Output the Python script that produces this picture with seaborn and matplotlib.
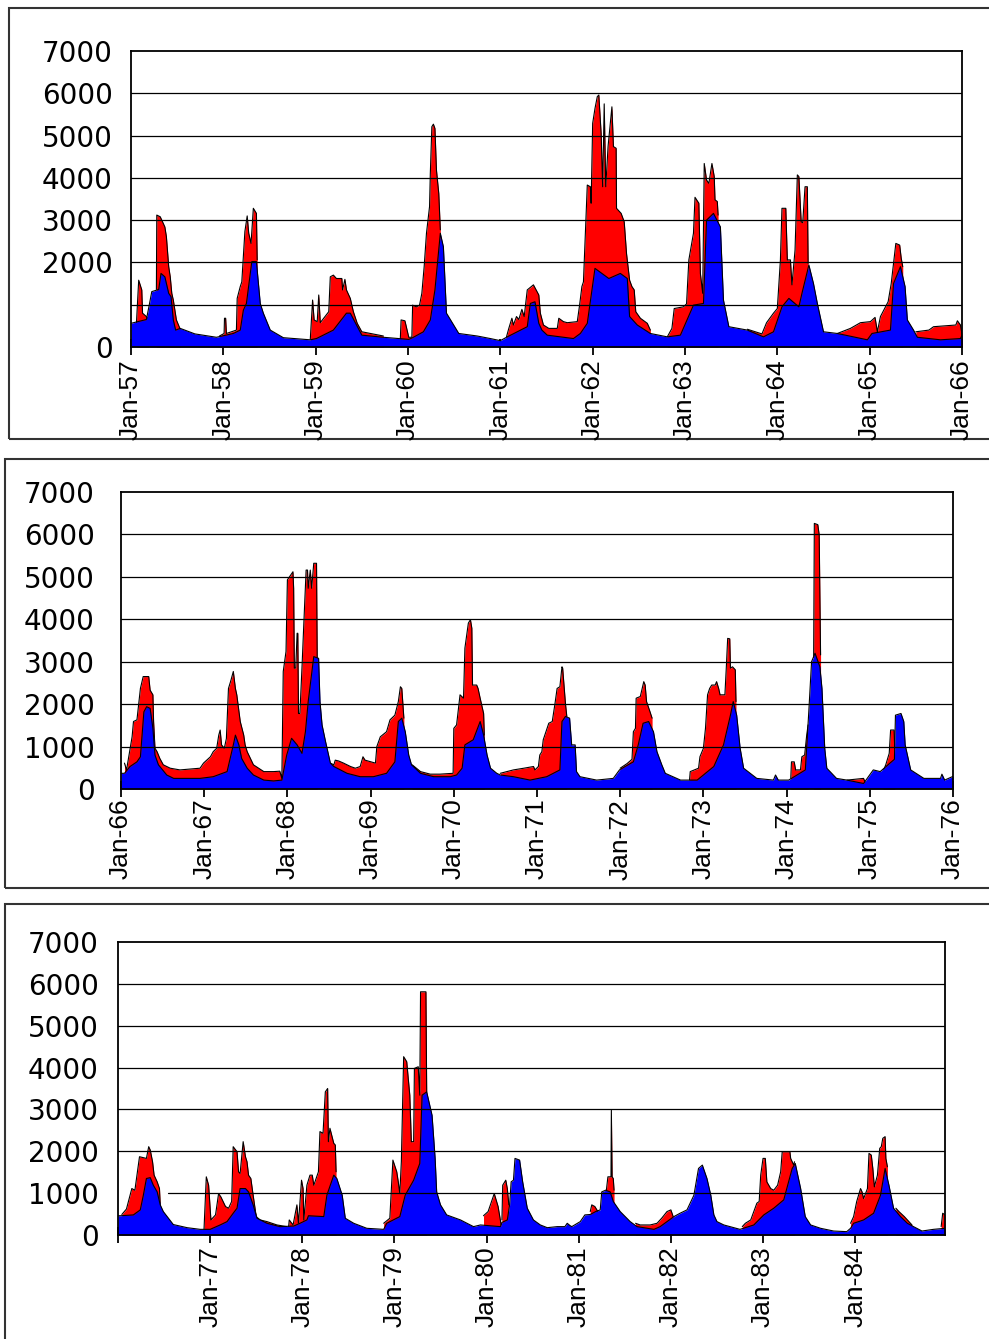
import matplotlib
matplotlib.use("Agg")
import matplotlib.pyplot as plt
from matplotlib.patches import Rectangle
import pandas as pd
import seaborn as sns

# ---------------------------------------------------------------------------
# Flow records, month offsets from January of each panel's first year.
# Lower (blue) series is continuous; upper (red) series is stored as the
# stretches where it rises above the lower one.
# ---------------------------------------------------------------------------

# 1957 - 1966
P1_BLUE = [(0, 560), (2.0, 650), (2.4, 1020), (2.7, 1310), (3.6, 1360), (3.9, 1740), (4.4, 1660),
           (4.9, 1270), (5.2, 1190), (5.5, 640), (5.8, 400), (6.4, 440), (8.3, 310), (11.1, 230),
           (13.3, 320), (14.2, 400), (14.6, 870), (15.0, 1030), (15.7, 2020), (16.3, 2020),
           (16.8, 1030), (17.2, 800), (18.1, 400), (19.8, 220), (23.3, 170), (24.1, 200), (26.3, 400),
           (28.0, 800), (28.5, 800), (30.0, 280), (32.8, 230), (36.1, 180), (36.7, 230), (38.0, 360),
           (38.9, 640), (39.5, 1350), (40.2, 2690), (40.6, 2370), (41.0, 800), (42.6, 320),
           (45.0, 260), (46.7, 200), (48.0, 150), (48.9, 240), (51.5, 480), (51.9, 1030),
           (52.5, 1070), (53.0, 560), (53.4, 400), (54.1, 280), (57.5, 200), (58.4, 320), (59.3, 560),
           (60.3, 1860), (62.1, 1620), (63.6, 1740), (64.5, 1620), (64.8, 720), (65.8, 520),
           (67.5, 320), (69.7, 240), (71.4, 280), (73.1, 990), (74.4, 1030), (74.8, 3000),
           (75.7, 3160), (76.6, 2840), (77.0, 1110), (77.7, 480), (80.1, 400), (82.2, 240),
           (83.5, 360), (84.6, 950), (85.5, 1150), (86.8, 950), (87.2, 1270), (88.1, 1940),
           (88.7, 1500), (89.2, 1030), (90.0, 360), (91.8, 320), (95.7, 170), (96.3, 320), (98.7, 400),
           (99.1, 1500), (100.0, 1900), (100.6, 1430), (100.9, 640), (101.7, 400), (102.2, 230),
           (105.2, 170), (107.8, 200), (108.0, 280)]

P1_RED = [
    [(0.7, 540), (1.0, 1580), (1.4, 1350), (1.5, 800), (2.0, 720), (2.3, 650)],
    [(3.3, 1360), (3.35, 3120), (3.8, 3080), (4.4, 2840), (4.6, 2610), (4.9, 1900), (5.1, 1660),
     (5.3, 1270), (5.5, 1110), (5.9, 640), (6.4, 420)],
    [(11.5, 260), (12.1, 320), (12.15, 680), (12.3, 680), (12.4, 320), (13.7, 400), (13.8, 1150),
     (14.2, 1430), (14.4, 1540), (14.8, 2730), (15.1, 3100), (15.3, 2690), (15.6, 2450),
     (15.9, 3280), (16.3, 3160), (16.4, 2060)],
    [(23.3, 180), (23.6, 1110), (23.8, 640), (24.2, 600), (24.4, 1230), (24.6, 575), (25.7, 835),
     (25.9, 1660), (26.3, 1700), (26.7, 1620), (27.4, 1620), (27.5, 1350), (27.8, 1600),
     (28.0, 1350), (28.5, 1150), (28.9, 835), (29.4, 560), (30.0, 360), (32.8, 260)],
    [(35.0, 180), (35.1, 640), (35.6, 620), (36.1, 230), (36.5, 230), (36.6, 990), (37.1, 950),
     (37.5, 990), (37.8, 1270), (38.1, 1900), (38.4, 2690), (38.8, 3320), (38.9, 4100),
     (39.1, 5210), (39.3, 5270), (39.5, 5170), (39.7, 4180), (40.0, 3630), (40.2, 2770)],
    [(48.8, 240), (49.1, 440), (49.5, 680), (49.7, 520), (50.1, 720), (50.4, 650), (50.8, 890),
     (51.1, 720), (51.5, 1350), (52.3, 1470), (53.0, 1230), (53.2, 800), (53.6, 520), (54.3, 440),
     (55.4, 440), (55.6, 680), (56.2, 600), (56.7, 575), (58.0, 600), (58.3, 990), (58.6, 1430),
     (58.8, 1540), (59.3, 3830), (59.7, 3790), (59.8, 3400), (60.0, 5290), (60.3, 5640),
     (60.6, 5920), (60.8, 5960), (61.1, 5050), (61.3, 3790), (61.5, 5750), (61.7, 3790),
     (62.0, 4740), (62.5, 5680), (62.7, 4740), (63.05, 4700), (63.1, 3280), (63.7, 3160),
     (64.1, 2960), (64.4, 2210), (64.8, 1580), (65.1, 1430), (65.4, 1350), (65.6, 835),
     (66.2, 680), (67.1, 560), (67.5, 400)],
    [(69.7, 240), (70.3, 440), (70.6, 910), (71.8, 950), (72.2, 1020), (72.5, 2060), (73.1, 2690),
     (73.3, 3540), (73.8, 3400), (74.0, 1740), (74.3, 1270), (74.5, 4340), (74.8, 3950),
     (75.1, 3870), (75.5, 4340), (75.8, 4030), (75.9, 3480), (76.2, 3440), (76.3, 3120)],
    [(80.1, 420), (82.0, 310), (82.6, 575), (83.5, 800), (84.0, 910), (84.4, 2060), (84.6, 3280),
     (85.1, 3280), (85.3, 2060), (85.7, 2060), (85.9, 1470), (86.3, 2290), (86.6, 4070),
     (86.8, 4030), (87.1, 2960), (87.3, 2940), (87.6, 3790), (87.9, 3790), (88.0, 1980)],
    [(91.8, 320), (93.5, 440), (94.8, 575), (96.1, 600), (96.7, 700), (97.0, 360), (97.4, 720),
     (98.4, 1070), (98.8, 1500), (99.4, 2450), (99.9, 2410), (100.1, 2100), (100.3, 1900)],
    [(102.0, 360), (103.7, 400), (104.3, 480), (107.2, 520), (107.4, 620), (107.8, 520),
     (108.0, 300)],
]

# 1966 - 1976
P2_BLUE = [(0, 370), (0.5, 370), (1.3, 530), (2.3, 640), (2.8, 760), (3.3, 1820), (3.7, 1940),
           (4.2, 1900), (4.6, 1430), (4.9, 800), (5.4, 570), (6.6, 330), (7.6, 250), (11.4, 250),
           (13.3, 290), (15.3, 410), (16.2, 1040), (16.5, 1270), (17.0, 1040), (17.4, 720),
           (18.2, 490), (19.1, 330), (20.6, 210), (22.0, 190), (23.2, 210), (23.9, 800),
           (24.6, 1195), (25.4, 1040), (26.1, 840), (26.6, 1350), (27.0, 2060), (27.8, 3120),
           (28.5, 3080), (28.7, 2060), (29.0, 1510), (29.5, 1120), (30.2, 610), (30.7, 530),
           (32.6, 370), (34.5, 290), (36.4, 290), (38.3, 370), (39.5, 640), (40.0, 1590),
           (40.5, 1670), (41.0, 1350), (41.5, 800), (41.9, 570), (43.2, 370), (45.1, 290),
           (47.5, 290), (48.4, 330), (49.2, 490), (49.6, 1040), (50.8, 1160), (51.8, 1590),
           (52.3, 1270), (52.8, 800), (53.3, 490), (54.2, 370), (54.7, 330), (56.6, 290), (59.0, 210),
           (61.4, 290), (63.3, 450), (63.6, 1590), (64.1, 1710), (64.7, 1670), (65.0, 1040),
           (65.5, 1040), (65.7, 410), (66.2, 290), (68.6, 210), (71.0, 250), (71.9, 450), (72.7, 530),
           (73.9, 640), (74.6, 1040), (75.3, 1550), (76.1, 1590), (76.8, 1350), (77.3, 880),
           (78.0, 570), (78.5, 370), (80.7, 210), (83.1, 210), (84.0, 330), (85.5, 530), (86.9, 1040),
           (87.9, 1740), (88.3, 2060), (88.8, 1740), (89.3, 960), (89.8, 490), (91.7, 250),
           (94.1, 210), (94.4, 330), (94.8, 210), (96.3, 210), (98.7, 450), (99.2, 1820),
           (99.6, 3000), (100.1, 3200), (100.8, 2880), (101.1, 2370), (101.5, 960), (101.8, 490),
           (103.2, 250), (104.7, 210), (107.1, 130), (108.5, 450), (109.5, 410), (110.9, 610),
           (111.55, 700), (111.7, 1740), (112.5, 1780), (112.9, 1590), (113.1, 1040), (113.9, 450),
           (115.8, 250), (118.2, 250), (118.4, 350), (118.8, 210), (119.9, 290), (120.0, 300)]

P2_RED = [
    [(0.5, 610), (0.8, 450), (1.6, 1230), (1.8, 1590), (2.3, 1630), (2.8, 2370), (3.2, 2650),
     (4.0, 2650), (4.2, 2330), (4.6, 2220), (4.7, 1590), (4.9, 960), (5.2, 880), (5.6, 720),
     (6.1, 570), (7.1, 490), (8.5, 450), (11.4, 490), (11.9, 610), (12.9, 760), (13.3, 880),
     (13.8, 960), (14.1, 1270), (14.3, 1390), (14.5, 1040), (14.9, 960), (15.2, 1190),
     (15.5, 2370), (15.8, 2530), (16.2, 2770), (16.5, 2370), (16.7, 2220), (17.2, 1590),
     (17.7, 1270), (17.9, 1040), (18.2, 880), (19.1, 570), (20.6, 410), (22.0, 410), (22.9, 420),
     (23.2, 250), (23.4, 2770), (23.8, 3240), (24.0, 4930), (24.8, 5120), (24.9, 4730),
     (25.0, 2850), (25.2, 2850), (25.4, 3670), (25.5, 3670), (25.6, 1780), (25.8, 1780),
     (26.1, 2850), (26.4, 4020), (26.7, 5160), (26.9, 5160), (27.0, 4730), (27.3, 5160),
     (27.5, 4730), (27.8, 5320), (28.2, 5320), (28.3, 3080)],
    [(30.2, 610), (30.7, 570), (30.9, 680), (31.4, 660), (32.1, 610), (33.1, 530), (33.8, 490),
     (34.5, 530), (34.9, 760), (35.2, 680), (36.7, 610), (36.9, 1000), (37.4, 1230), (38.3, 1350),
     (38.8, 1630), (39.5, 1740), (40.0, 2060), (40.3, 2410), (40.5, 2370), (40.8, 1670)],
    [(42.0, 570), (43.2, 410), (44.6, 350), (46.0, 350), (47.9, 370), (48.0, 1430), (48.4, 1510),
     (48.9, 2220), (49.4, 2140), (49.6, 3320), (50.1, 3910), (50.4, 3990), (50.6, 3790),
     (50.7, 2450), (51.3, 2450), (51.5, 2370), (51.8, 2140), (52.3, 1780), (52.4, 1270)],
    [(54.7, 370), (56.6, 450), (58.1, 490), (59.5, 530), (59.7, 450), (60.2, 530), (60.4, 800),
     (60.7, 880), (60.9, 1160), (61.7, 1550), (62.2, 1590), (62.6, 2020), (62.9, 2370),
     (63.3, 2410), (63.6, 2880), (63.7, 2850), (64.1, 2020), (64.3, 1710)],
    [(72.0, 490), (73.0, 600), (73.7, 700), (73.9, 1350), (74.2, 1430), (74.3, 2140), (74.9, 2180),
     (75.4, 2530), (75.6, 2450), (75.8, 2060), (76.3, 1820), (76.6, 1670)],
    [(82.0, 210), (82.1, 410), (83.3, 490), (83.5, 760), (84.0, 960), (84.3, 1430), (84.6, 2220),
     (84.9, 2370), (85.2, 2450), (85.7, 2450), (85.9, 2530), (86.2, 2370), (86.4, 2220),
     (87.1, 2220), (87.3, 2850), (87.5, 3550), (87.8, 3540), (87.9, 2850), (88.2, 2880),
     (88.6, 2810), (88.7, 2060)],
    [(96.6, 250), (96.7, 640), (97.1, 640), (97.3, 450), (98.0, 450), (98.2, 760), (98.6, 800),
     (98.9, 1270), (99.1, 1510)],
    [(99.9, 3100), (100.0, 6260), (100.5, 6230), (100.7, 5990), (100.9, 3160)],
    [(104.7, 210), (107.1, 250), (107.4, 130)],
    [(109.9, 410), (110.3, 570), (110.8, 840), (111.0, 1390), (111.5, 1390), (111.6, 960)],
]

# 1976 - 1984
P3_BLUE = [(0, 460), (0.3, 460), (2.0, 480), (2.9, 600), (3.3, 950), (3.7, 1350), (4.2, 1370),
           (4.6, 1190), (5.1, 1030), (5.5, 720), (5.9, 560), (7.2, 250), (9.0, 175), (10.7, 135),
           (12.0, 135), (13.3, 240), (14.2, 320), (15.0, 520), (15.5, 640), (15.9, 1110),
           (16.6, 1110), (17.0, 1030), (17.6, 720), (18.1, 400), (19.4, 280), (21.1, 200),
           (22.9, 215), (23.7, 280), (24.6, 360), (24.8, 460), (26.8, 440), (27.2, 950),
           (28.1, 1430), (28.5, 1350), (29.2, 950), (29.6, 400), (30.7, 280), (32.4, 160),
           (34.6, 135), (35.0, 280), (36.7, 440), (37.4, 950), (38.5, 1310), (39.3, 1710),
           (39.6, 3340), (40.2, 3420), (40.9, 2860), (41.3, 1830), (41.5, 1030), (42.0, 720),
           (42.8, 480), (44.6, 360), (46.3, 200), (47.2, 240), (48.5, 220), (49.8, 200), (50.0, 300),
           (50.7, 360), (51.0, 720), (51.2, 1270), (51.5, 1310), (51.7, 1830), (52.3, 1790),
           (52.7, 1270), (53.3, 640), (54.1, 360), (55.0, 240), (55.9, 175), (57.2, 200), (58.2, 200),
           (58.5, 280), (58.9, 220), (59.1, 200), (60.2, 320), (60.8, 480), (61.5, 490), (62.2, 560),
           (62.8, 600), (63.0, 1030), (63.5, 1070), (64.1, 1030), (64.5, 800), (65.4, 560),
           (66.7, 320), (67.6, 200), (69.8, 135), (70.6, 200), (71.5, 320), (72.4, 440), (73.2, 520),
           (74.1, 600), (75.0, 950), (75.6, 1590), (76.1, 1670), (76.7, 1350), (77.2, 950),
           (77.6, 480), (78.0, 320), (78.9, 240), (81.0, 135), (82.8, 240), (84.1, 480), (85.4, 640),
           (86.7, 840), (87.8, 1590), (88.2, 1710), (88.9, 1110), (89.5, 440), (90.2, 240),
           (91.5, 160), (93.2, 95), (94.9, 80), (95.4, 160), (95.8, 280), (97.1, 360), (98.4, 520),
           (99.3, 950), (99.9, 1590), (100.4, 1190), (101.0, 640), (101.9, 440), (102.8, 280),
           (103.6, 200), (104.7, 95), (106.2, 135), (107.7, 160)]

P3_RED = [
    [(0.5, 490), (1.1, 620), (1.8, 1110), (2.2, 1070), (2.8, 1870), (3.7, 1830), (4.0, 2110),
     (4.2, 2030), (4.5, 1750), (4.7, 1430), (5.1, 1270), (5.4, 1110), (5.5, 720)],
    [(11.2, 135), (11.5, 1390), (11.8, 1190), (12.1, 360), (12.7, 480), (13.1, 990), (13.4, 910),
     (14.0, 680), (14.4, 640), (14.8, 800), (15.0, 2110), (15.5, 1990), (15.7, 1510),
     (15.9, 1470), (16.3, 2230), (16.6, 1870), (16.8, 1750), (17.0, 1430), (17.3, 1350),
     (17.6, 950), (18.0, 440), (18.5, 360), (19.4, 320), (20.7, 240), (22.0, 200)],
    [(22.2, 160), (22.3, 360), (22.8, 240), (23.3, 720), (23.5, 280), (23.9, 1310), (24.1, 1110),
     (24.2, 360), (24.6, 1190), (25.0, 1430), (25.3, 1430), (25.5, 1190), (26.1, 1510),
     (26.3, 2470), (26.7, 2430), (27.0, 3420), (27.3, 3500), (27.4, 2230), (27.6, 2550),
     (28.1, 2190), (28.3, 2150), (28.4, 1510)],
    [(34.6, 280), (35.4, 400), (35.8, 1790), (36.3, 1510), (36.5, 1270), (36.7, 990), (36.9, 1750),
     (37.2, 4260), (37.6, 4140), (38.0, 3340), (38.2, 2230), (38.5, 2230), (38.6, 3980),
     (39.1, 4020), (39.3, 3340), (39.4, 5810), (40.1, 5810), (40.2, 3420)],
    [(47.6, 460), (48.2, 560), (49.0, 990), (49.5, 680), (49.9, 240)],
    [(50.0, 360), (50.1, 1190), (50.5, 1310), (50.7, 1110), (50.9, 720)],
    [(61.5, 560), (61.7, 720), (62.1, 680), (62.5, 560)],
    [(63.6, 1070), (63.8, 1390), (64.2, 1390), (64.25, 2980), (64.35, 1390), (64.5, 1350),
     (64.6, 1070)],
    [(67.4, 280), (68.0, 240), (69.3, 240), (70.2, 280), (70.8, 400), (71.5, 560), (72.0, 600),
     (72.3, 440)],
    [(81.3, 200), (81.7, 280), (82.4, 360), (82.8, 560), (83.2, 760), (83.5, 800), (83.7, 1430),
     (84.0, 1830), (84.3, 1830), (84.5, 1270), (85.0, 1110), (85.4, 1070), (85.9, 1190),
     (86.3, 1510), (86.5, 1990), (87.5, 1990), (87.6, 1830), (88.0, 1670), (88.1, 1750)],
    [(95.4, 280), (95.8, 440), (96.2, 800), (96.7, 1110), (96.9, 1030), (97.1, 870), (97.6, 1110),
     (97.8, 1950), (98.1, 1910), (98.3, 1590), (98.5, 1150), (98.9, 1430), (99.2, 2070),
     (99.4, 2110), (99.6, 2310), (99.9, 2350), (100.0, 1830), (100.2, 1630)],
    [(101.3, 640), (101.7, 560), (102.4, 440), (103.0, 320), (103.4, 240)],
    [(107.2, 200), (107.4, 520), (107.7, 480)],
]

P1_XLABELS = ["Jan-57", "Jan-58", "Jan-59", "Jan-60", "Jan-61", "Jan-62", "Jan-63", "Jan-64",
              "Jan-65", "Jan-66"]
P2_XLABELS = ["Jan-66", "Jan-67", "Jan-68", "Jan-69", "Jan-70", "Jan-71", "Jan-72", "Jan-73",
              "Jan-74", "Jan-75", "Jan-76"]
P3_XLABELS = ["", "Jan-77", "Jan-78", "Jan-79", "Jan-80", "Jan-81", "Jan-82", "Jan-83", "Jan-84"]

P1_YTICKS = [0, 2000, 3000, 4000, 5000, 6000, 7000]
P23_YTICKS = [0, 1000, 2000, 3000, 4000, 5000, 6000, 7000]
GRID_LEVELS = [1000, 2000, 3000, 4000, 5000, 6000]

RED = "#ff0000"
BLUE = "#0000ff"

sns.set_theme(style="white")
plt.rcParams["font.family"] = ["DejaVu Sans"]
plt.rcParams["text.color"] = "black"
plt.rcParams["xtick.color"] = "black"
plt.rcParams["ytick.color"] = "black"
plt.rcParams["xtick.labelcolor"] = "black"
plt.rcParams["ytick.labelcolor"] = "black"

W, H = 989, 1339
fig = plt.figure(figsize=(W / 100, H / 100), dpi=100)


def px_axes(left, top, right, bottom):
    return fig.add_axes([left / W, 1 - bottom / H, (right - left) / W, (bottom - top) / H])


def frame(left, top, right, bottom):
    fig.add_artist(Rectangle((left / W, 1 - bottom / H), (right - left) / W, (bottom - top) / H,
                             transform=fig.transFigure, fill=False, edgecolor="#333333",
                             linewidth=1.5, zorder=0))


def to_frame(segs):
    rows = [(i, t, v) for i, seg in enumerate(segs) for t, v in seg]
    return pd.DataFrame(rows, columns=["seg", "month", "flow"])


def draw_panel(ax, red_segs, blue, xmax, xlabels, yticks, xpad, ypad, grid_start=None):
    red_df = to_frame(red_segs)
    blue_df = to_frame([blue])

    for _, g in red_df.groupby("seg"):
        ax.fill_between(g["month"], 0, g["flow"], color=RED, linewidth=0, zorder=2)
    sns.lineplot(data=red_df, x="month", y="flow", units="seg", estimator=None, sort=False,
                 color="black", linewidth=0.8, ax=ax, zorder=2.5, legend=False)

    ax.fill_between(blue_df["month"], 0, blue_df["flow"], color=BLUE, linewidth=0, zorder=3)
    sns.lineplot(data=blue_df, x="month", y="flow", units="seg", estimator=None, sort=False,
                 color="black", linewidth=0.8, ax=ax, zorder=3.5, legend=False)

    for lvl in GRID_LEVELS:
        xmin = grid_start if (grid_start is not None and lvl == 1000) else 0
        ax.axhline(lvl, xmin=xmin, xmax=1, color="black", linewidth=0.9, zorder=4)

    ax.set_xlim(0, xmax)
    ax.set_ylim(0, 7000)
    ax.set_xlabel("")
    ax.set_ylabel("")
    ax.set_xticks([12 * i for i in range(len(xlabels))])
    ax.set_xticklabels(xlabels, rotation=90, fontsize=19, fontfamily="Liberation Sans",
                       color="black")
    ax.set_yticks(yticks)
    ax.set_yticklabels([str(v) for v in yticks], fontsize=20, color="black")
    ax.tick_params(axis="x", bottom=True, top=False, direction="inout", length=12, width=1.3,
                   color="black", pad=xpad)
    ax.tick_params(axis="y", left=False, right=False, length=0, pad=ypad)
    for sp in ax.spines.values():
        sp.set_visible(True)
        sp.set_color("black")
        sp.set_linewidth(1.3)
        sp.set_zorder(5)
    ax.set_facecolor("white")


# outer boxes around each panel
frame(9, 8, 1000, 439)
frame(5, 459, 1000, 888)
frame(5, 904, 1000, 1350)

ax1 = px_axes(131, 51, 962, 347)
draw_panel(ax1, P1_RED, P1_BLUE, 108, P1_XLABELS, P1_YTICKS, xpad=3, ypad=13)

ax2 = px_axes(121, 492, 953, 789)
draw_panel(ax2, P2_RED, P2_BLUE, 120, P2_XLABELS, P23_YTICKS, xpad=1, ypad=19)

ax3 = px_axes(118, 942, 945, 1235)
draw_panel(ax3, P3_RED, P3_BLUE, 107.7, P3_XLABELS, P23_YTICKS, xpad=2, ypad=14,
           grid_start=0.06)

fig.savefig("out.png", dpi=100)
